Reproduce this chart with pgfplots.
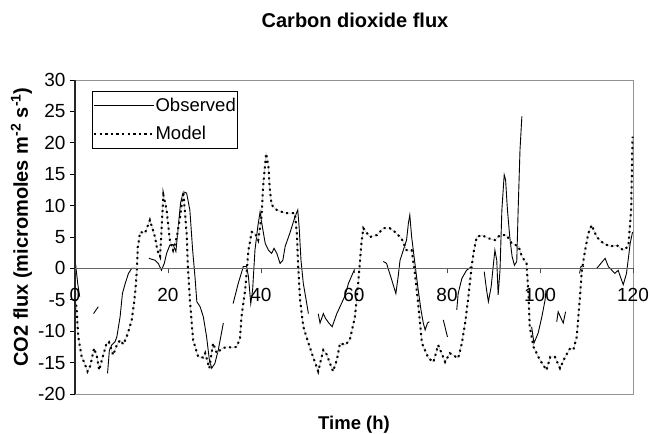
\documentclass[border=0pt]{standalone}
\usepackage{fontspec}
\setmainfont{Liberation Sans}
\usepackage{pgfplots}
\pgfplotsset{compat=1.18}
\usepackage{pgfplotstable}

\pgfplotstableread{
h v
0 -4
0.36 -6.6
0.7 -10.9
1.44 -14.1
2.0 -15
2.7 -16.4
3.3 -15.5
4.1 -12.7
4.7 -14
5.2 -16.2
6.0 -14
6.8 -11.9
7.3 -11.7
8.2 -13.8
9.0 -12.2
9.7 -11.4
10.4 -12.1
11.3 -10.5
12.2 -8.2
12.7 -5.5
13.0 -3.4
13.3 -0.3
13.5 3.5
13.7 4.3
14.0 5.8
15.05 5.6
16.1 7.7
16.6 6.5
17.2 5.0
17.7 2.9
18.3 1.9
18.6 6
19.0 11.7
19.7 9.3
20.1 6.5
20.4 4.5
21.1 2.9
21.9 5.0
22.6 8.2
23.3 12.2
24.0 5.6
24.3 0
24.7 -5.0
25.4 -11.4
26.5 -14.1
27.6 -14.2
28 -13.5
28.9 -15.9
29.7 -11.9
30.5 -13.5
31.5 -12.8
32.6 -12.5
33.7 -12.6
34.8 -12.5
35.5 -11
35.8 -7.7
36.6 -3.4
37.3 2.9
38.0 5.8
38.7 5.6
39.4 4.5
40.1 8.2
40.5 13.5
41.1 18.3
41.6 16.2
41.9 12.5
42.3 10.1
43.4 9.3
45.2 8.8
47.3 8.8
47.7 5.6
48.0 0.3
48.4 -5.0
49.1 -9.3
50.2 -11.9
51.2 -14.1
52.3 -16.4
53.4 -13.0
54.0 -13.5
55.5 -16.4
56.3 -14.6
57.0 -11.9
58.1 -12.2
59.1 -11.4
60.2 -7.7
60.9 -2.4
61.3 1.3
61.6 4.0
62.0 6.4
63.4 5.0
64.9 5.3
66.3 6.4
67.7 6.4
68.8 5.8
70.2 4.8
71.3 2.9
72.4 2.9
73.1 -0.8
73.8 -5.6
74.2 -8.7
74.6 -11.9
76.0 -14.3
77.1 -14.9
78.1 -12.2
79.6 -14.9
80.6 -13.5
82.4 -14.3
83.2 -11.9
83.9 -8.7
84.6 -4.5
85.3 0.3
85.8 2.9
86.4 5.0
87.5 5.3
88.9 4.8
90.3 4.5
91.4 5.3
92.8 5.3
93.9 4.0
95.4 3.5
96.1 1.9
97.1 0.8
97.5 -4.0
97.8 -9.3
98.6 -12.5
100.0 -14.6
101.4 -16.2
102.2 -14.1
103.2 -14.1
104.3 -15.9
105.4 -14.1
106.5 -12.7
107.2 -12.9
107.9 -10.9
108.6 -4.5
109.0 -0.3
109.7 2.9
110.4 5.6
111.1 6.9
112.2 5.0
113.6 4.0
115.1 3.5
116.5 3.7
117.9 2.9
119.0 3.5
119.6 9.3
119.9 21.0
}\model

\pgfplotstableread{
h v
0 1.5
0.3 -0.5
0.6 -2.5
1.0 -4.5
1.1 nan
4.0 -7.2
5.0 -6.1
5.1 nan
7.0 -16.7
7.4 -13.0
7.9 -12.2
8.6 -11.7
9.0 -10.9
9.7 -7.7
10.2 -4.0
10.8 -2.4
11.5 -0.8
12.2 0
13.0 0
13.1 nan
15.9 1.6
17.2 1.3
17.9 0.8
18.6 -0.3
19.2 0.8
19.7 2.4
20.4 3.7
21.1 3.8
21.7 2.7
22.2 6.6
22.7 10.4
23.3 12.2
24.0 12.0
24.7 9.3
25.3 2.9
25.8 -1.3
26.2 -5.3
26.9 -6.1
27.6 -7.7
28.3 -10.9
28.9 -14.6
29.4 -15.9
30.1 -15.1
30.8 -13.0
31.5 -10.3
31.9 -8.7
32.0 nan
34.0 -5.6
35.1 -2.4
36.2 0.3
36.9 0.3
37.3 -1.3
37.8 -5.6
38.2 -3.4
38.7 2.9
39.3 6.6
39.8 9.0
40.3 6.6
40.9 4.0
41.6 2.9
42.3 2.4
42.8 3.2
43.4 2.4
44.1 0.8
44.7 1.3
45.2 3.5
46.2 5.6
47.3 8.2
47.9 9.3
48.2 6.6
48.6 1.3
49.1 -2.4
49.7 -5.0
50.2 -7.2
50.3 nan
52.3 -7.2
52.7 -8.7
53.4 -7.2
53.9 -8.0
54.6 -8.7
55.3 -9.3
56.3 -7.2
57.3 -5.6
58.1 -4.3
58.8 -2.4
60.2 0
60.3 nan
66.3 1.1
67.0 0.8
68.1 -1.8
69.0 -4.0
69.5 -1.3
69.9 1.3
70.6 2.9
71.3 4.5
71.7 7.2
72.0 8.5
72.4 5.0
73.1 0.8
73.8 -3.4
74.4 -6.6
74.9 -8.7
75.3 -9.8
75.8 -8.7
76.2 -8.5
76.3 nan
79.2 -8.2
80.1 -10.9
80.2 nan
82.1 -6.6
82.4 -4.0
83.2 -1.6
84.2 -0.3
85.3 0.3
85.4 nan
88.0 -0.5
88.5 -3.4
88.9 -5.3
89.5 -2.9
90.0 0.8
90.3 2.9
90.7 1.3
91.0 -4.2
91.4 -0.3
91.8 9.3
92.3 14.9
92.6 14.1
93.0 9.3
93.5 5.0
94.0 1.9
94.5 0.5
95.0 1.1
95.3 9.3
95.7 18.9
96.1 24.2
96.2 nan
98.2 -9.3
98.7 -11.9
99.6 -10.3
100.4 -7.7
101.1 -5.0
101.3 -3.4
101.4 nan
103.6 -8.5
103.9 -6.9
104.5 -7.9
105.0 -8.7
105.5 -6.9
105.6 nan
108.5 -0.8
108.8 0.3
109.5 0.3
109.6 nan
112.2 0
114.0 1.6
114.7 0.3
116.1 -0.8
116.8 -0.3
117.9 -2.6
118.6 -0.8
119.4 4.0
119.9 5.8
}\observed

\begin{document}
\begin{tikzpicture}
\useasboundingbox (-75bp,-40bp) rectangle (577bp,394bp);
\begin{axis}[
  at={(0,0)}, anchor=south west,
  scale only axis, width=558bp, height=314bp,
  xmin=0, xmax=120, ymin=-20, ymax=30,
  xtick=\empty,
  ytick={-20,-15,...,30},
  ytick pos=left,
  tick align=outside,
  major tick length=5bp,
  y tick style={black, line width=0.8bp},
  /pgf/number format/assume math mode=true,
  yticklabel style={font=\fontsize{19bp}{22bp}\selectfont, xshift=-1bp},
  axis line style={draw=gray!85, line width=0.9bp},
  unbounded coords=jump,
  clip=false,
  legend style={at={(0.030,0.965)}, anchor=north west, draw=black, line width=0.7bp,
    fill=white, font=\fontsize{18.5bp}{20bp}\selectfont,
    inner xsep=1bp, inner ysep=6bp, row sep=11bp,
    nodes={inner xsep=0.5bp, inner ysep=1bp}},
  legend cell align=left,
  legend image code/.code={\path (0bp,0bp) -- (60bp,0bp); \draw[#1] (6bp,0bp) -- (60bp,0bp);},
]
\addplot[black, line width=0.9bp] table[x=h, y=v] {\observed};
\addlegendentry{Observed}
\addplot[gray!55, line width=0.5bp, forget plot] table[x=h, y=v] {\model};
\addplot[black, line width=2bp, dash pattern=on 2bp off 3.6bp] table[x=h, y=v] {\model};
\addlegendentry{Model}
\draw[black!85, line width=1.2bp] (rel axis cs:0,0) -- (rel axis cs:0,1);
\end{axis}
\begin{axis}[
  at={(0,0)}, anchor=south west,
  scale only axis, width=558bp, height=314bp,
  xmin=0, xmax=120, ymin=-20, ymax=30,
  axis x line=middle, axis y line=none,
  axis line style={-, draw=black!60, line width=0.9bp},
  xtick={0,20,...,120},
  hide obscured x ticks=false,
  tick align=outside,
  major tick length=5bp,
  x tick style={black!70, line width=0.8bp},
  /pgf/number format/assume math mode=true,
  xticklabel style={font=\fontsize{19bp}{22bp}\selectfont, yshift=-11bp},
]
\end{axis}
\node[font=\bfseries\fontsize{20bp}{22bp}\selectfont, anchor=base] at (280bp,366bp) {Carbon dioxide flux};
\node[font=\bfseries\fontsize{18.5bp}{22bp}\selectfont, anchor=base] at (279bp,-35bp) {Time (h)};
\node[font=\bfseries\fontsize{20bp}{22bp}\selectfont, anchor=base, rotate=90] at (-47bp,167bp) {CO2 flux (micromoles m\textsuperscript{-2} s\textsuperscript{-1})};
\end{tikzpicture}
\end{document}
